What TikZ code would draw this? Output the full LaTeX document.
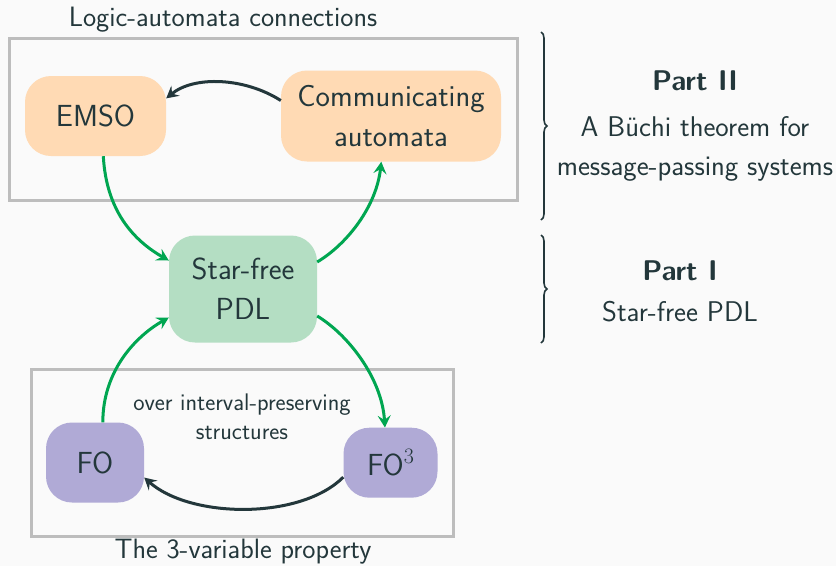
\documentclass[tikz,border=0pt]{standalone}
\usetikzlibrary{arrows.meta,decorations.pathreplacing}

\definecolor{ink}{HTML}{23373B}
\definecolor{paper}{HTML}{FAFAFA}
\definecolor{framegray}{HTML}{BDBDBD}
\definecolor{peach}{HTML}{FFDAB4}
\definecolor{mint}{HTML}{B4DEC3}
\definecolor{lilac}{HTML}{B0AAD6}
\definecolor{linkgreen}{HTML}{00A651}

% serif superscript as in math mode
\newcommand{\sersup}[1]{\raisebox{0.40em}{\fontfamily{lmr}\fontsize{22}{22}\selectfont #1}}

\tikzset{
  box/.style={rounded corners=26pt, inner sep=0pt, align=center, text=ink,
    font=\sffamily\fontsize{30.5}{40}\selectfont},
  logicbox/.style={box, fill=peach},
  pdlbox/.style={box, fill=mint},
  fobox/.style={box, fill=lilac},
  groupframe/.style={draw=framegray, line width=3pt},
  caption/.style={text=ink, inner sep=0pt, font=\sffamily\fontsize{28}{34}\selectfont},
  note/.style={text=ink, inner sep=0pt, align=center, font=\sffamily\fontsize{24}{29}\selectfont},
  parttitle/.style={text=ink, inner sep=0pt, font=\sffamily\fontsize{28.5}{34}\selectfont\bfseries},
  parttext/.style={text=ink, inner sep=0pt, font=\sffamily\fontsize{28.5}{34}\selectfont},
  tip/.style={-{Stealth[length=12pt,width=13pt,inset=4.5pt]}},
  greenlink/.style={draw=linkgreen, line width=3pt, tip},
  darklink/.style={draw=ink, line width=3pt, tip},
  partbrace/.style={draw=ink, line width=1.6pt, decorate,
    decoration={brace, amplitude=6pt}},
}

\begin{document}
\begin{tikzpicture}[x=1pt, y=-1pt]
  \fill[paper] (0,0) rectangle (836,566);
  \useasboundingbox (0,0) rectangle (836,566);

  % group frames and their captions
  \draw[groupframe] (9,38) rectangle (517,200);
  \draw[groupframe] (31,369) rectangle (453,536);
  \node[caption, anchor=base] (toptitle) at (223,26) {Logic-automata connections};
  \node[caption, anchor=base] (bottomtitle) at (243,558) {The 3-variable property};

  % formalisms
  \node[logicbox, minimum width=141pt, minimum height=80pt] (emso) at (95.5,116) {EMSO};
  \node[logicbox, minimum width=220pt, minimum height=91pt] (comm) at (391,116)
    {Communicating\\automata};
  \node[pdlbox, minimum width=148pt, minimum height=107pt] (sf) at (243,289)
    {Star-free\\PDL};
  \node[fobox, minimum width=98pt, minimum height=80pt] (fo) at (95,462.5) {FO};
  \node[fobox, minimum width=94pt, minimum height=70pt] (fo3) at (390.5,462.7) {FO\sersup{3}};

  \node[note, anchor=base] (overip) at (242,410) {over interval-preserving};
  \node[note, anchor=base] (structs) at (242,439) {structures};

  % translations
  \draw[darklink] (comm.172) .. controls +(-36,-23) and +(28,-23) .. (emso.14);
  \draw[greenlink] (emso.-79) .. controls +(3,55) and +(-35,-20) .. (sf.159);
  \draw[greenlink] (sf.20) .. controls +(30,-18) and +(-5,45) .. (comm.-102);
  \draw[greenlink] (sf.-20) .. controls +(30,18) and +(-3,-50) .. (fo3.99);
  \draw[greenlink] (fo.79) .. controls +(0,-50) and +(-35,20) .. (sf.201);
  \draw[darklink] (fo3.197) .. controls +(-43,43) and +(46,41) .. (fo.-17);

  % parts of the thesis
  \draw[partbrace] (541,32) -- (541,220);
  \draw[partbrace] (541,235) -- (541,343);
  \node[parttitle, anchor=base] (part2) at (695,90) {Part II};
  \node[parttext, anchor=base] (part2a) at (695,136) {A Büchi theorem for};
  \node[parttext, anchor=base] (part2b) at (695,175) {message-passing systems};
  \node[parttitle, anchor=base] (part1) at (680,280) {Part I};
  \node[parttext, anchor=base] (part1a) at (680,321) {Star-free PDL};
\end{tikzpicture}
\end{document}
